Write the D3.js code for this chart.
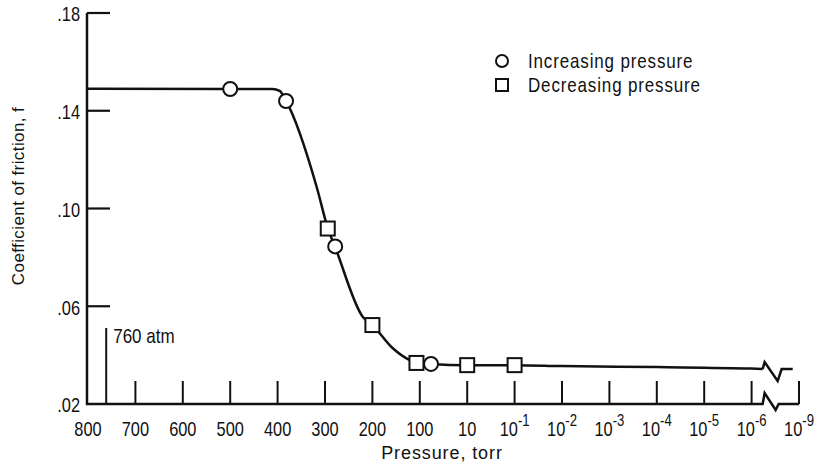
<!DOCTYPE html>
<html>
<head>
<meta charset="utf-8">
<script src="https://cdn.jsdelivr.net/npm/d3@7"></script>
<style>
    body { margin: 0; background: #fff; }
    text { font-family: "Liberation Sans", Arial, sans-serif; fill: #111; }
</style>
</head>
<body>
<svg></svg>
<script>
// x axis: equally spaced pressure stations (torr)
const pressureTicks = [800, 700, 600, 500, 400, 300, 200, 100, 10, 1e-1, 1e-2, 1e-3, 1e-4, 1e-5, 1e-6, 1e-9]
const tickBase = ["800", "700", "600", "500", "400", "300", "200", "100", "10", "10", "10", "10", "10", "10", "10", "10"]
const tickExp = ["", "", "", "", "", "", "", "", "", "-1", "-2", "-3", "-4", "-5", "-6", "-9"]

const yTicks = [0.02, 0.06, 0.10, 0.14, 0.18]
const yTickLabels = [".02", ".06", ".10", ".14", ".18"]

// measured points
const increasingP = [500, 380, 275, 58]
const increasingF = [0.1489, 0.1440, 0.0845, 0.0364]
const decreasingP = [293, 200, 105, 10, 0.1]
const decreasingF = [0.0918, 0.0523, 0.0368, 0.0359, 0.0359]

// faired curve
const curveP = [800, 500, 410, 395, 380, 315, 293, 275, 217, 200, 149, 116, 100, 58, 10, 0.1, 1e-2, 1e-4, 1e-6, 2e-7]
const curveF = [0.1490, 0.1489, 0.1489, 0.1481, 0.1440, 0.1084, 0.0920, 0.0842, 0.0556, 0.0523, 0.0429, 0.0380, 0.0368, 0.0364, 0.0359, 0.0359, 0.0355, 0.0351, 0.0345, 0.0343]
const tailP = [1.2e-8, 2.5e-9]
const tailF = [0.0343, 0.0343]

const atmP = 760

const width = 820
const height = 462
const svg = d3.select('svg')
    .attr("width", width)
    .attr("height", height)

const point = d3.scalePoint()
    .domain(d3.range(pressureTicks.length))
    .range([88, 799])

const x = d3.scaleLinear()
    .domain(pressureTicks.map(p => Math.log10(p)))
    .range(pressureTicks.map((p, i) => point(i)))

const y = d3.scaleLinear()
    .domain([0.02, 0.18])
    .range([404, 13])

const px = p => x(Math.log10(p))

// smalle (condensed) letter zoals in de scan
const smal = 0.82

tekenAssen()
tekenCurve()
tekenPunten()
tekenLegenda()

function tekenAssen() {
    const ink = "#111"
    const x0 = x.range()[0]
    const xEnd = x.range()[x.range().length - 1]
    const xBreak = px(2e-7)
    const yBase = y(0.02)

    // y axis
    svg.append("line")
        .attr("x1", x0 - 1).attr("x2", x0 - 1)
        .attr("y1", y(0.18)).attr("y2", yBase + 1)
        .attr("stroke", ink).attr("stroke-width", 2.5)

    svg.selectAll(".ytick")
        .data(yTicks.slice(1))
        .enter()
        .append("line")
        .attr("x1", x0 - 1).attr("x2", x0 + 22)
        .attr("y1", d => y(d)).attr("y2", d => y(d))
        .attr("stroke", ink).attr("stroke-width", 2.2)

    svg.selectAll(".ylabel")
        .data(yTicks)
        .enter()
        .append("text")
        .attr("transform", d => "translate(" + (x0 - 8) + "," + y(d) + ") scale(" + smal + ",1)")
        .attr("dy", "0.42em")
        .attr("text-anchor", "end")
        .attr("font-size", 20)
        .text((d, i) => yTickLabels[i])

    // x axis with break
    const axisPath = d3.path()
    axisPath.moveTo(x0 - 2, yBase)
    axisPath.lineTo(xBreak, yBase)
    axisPath.lineTo(xBreak + 2, yBase - 11)
    axisPath.lineTo(xBreak + 13, yBase + 6)
    axisPath.lineTo(xBreak + 16, yBase)
    axisPath.lineTo(xEnd, yBase)
    svg.append("path")
        .attr("d", axisPath.toString())
        .attr("fill", "none")
        .attr("stroke", ink).attr("stroke-width", 2.5)
        .attr("stroke-linejoin", "miter")

    svg.selectAll(".xtick")
        .data(pressureTicks.slice(1))
        .enter()
        .append("line")
        .attr("x1", d => px(d)).attr("x2", d => px(d))
        .attr("y1", yBase).attr("y2", yBase - 23)
        .attr("stroke", ink).attr("stroke-width", 2)

    const labels = svg.selectAll(".xlabel")
        .data(pressureTicks)
        .enter()
        .append("text")
        .attr("transform", d => "translate(" + px(d) + ",436) scale(" + smal + ",1)")
        .attr("text-anchor", "middle")
        .attr("font-size", 20)

    labels.append("tspan").text((d, i) => tickBase[i])
    labels.filter((d, i) => tickExp[i] !== "")
        .append("tspan")
        .attr("dy", -10)
        .attr("font-size", 16)
        .text(d => tickExp[pressureTicks.indexOf(d)])

    svg.append("text")
        .attr("x", 442)
        .attr("y", 459)
        .attr("text-anchor", "middle")
        .attr("font-size", 18)
        .attr("letter-spacing", 0.9)
        .text("Pressure, torr")

    svg.append("text")
        .attr("transform", "translate(24," + 196 + ") rotate(-90)")
        .attr("text-anchor", "middle")
        .attr("font-size", 17)
        .attr("letter-spacing", 0.4)
        .text("Coefficient of friction, f")

    // 760 atm marker
    svg.append("line")
        .attr("x1", px(atmP)).attr("x2", px(atmP))
        .attr("y1", yBase).attr("y2", 328)
        .attr("stroke", ink).attr("stroke-width", 2)
    svg.append("text")
        .attr("transform", "translate(" + (px(atmP) + 7) + ",343) scale(0.85,1)")
        .attr("font-size", 20)
        .text("760 atm")
}

function tekenCurve() {
    const lijn = d3.line()
        .x(d => px(d[0]))
        .y(d => y(d[1]))
        .curve(d3.curveMonotoneX)

    const hoofd = curveP.map((p, i) => [p, curveF[i]])
    svg.append("path")
        .attr("d", lijn(hoofd))
        .attr("fill", "none")
        .attr("stroke", "#111")
        .attr("stroke-width", 2.5)

    // break symbol on the curve
    const bx = px(curveP[curveP.length - 1])
    const by = y(curveF[curveF.length - 1])
    const breuk = d3.path()
    breuk.moveTo(bx, by)
    breuk.lineTo(bx + 2, by - 7)
    breuk.lineTo(bx + 15, by + 12)
    breuk.lineTo(bx + 19, by)
    breuk.lineTo(px(tailP[1]), y(tailF[1]))
    svg.append("path")
        .attr("d", breuk.toString())
        .attr("fill", "none")
        .attr("stroke", "#111")
        .attr("stroke-width", 2.5)
}

function tekenPunten() {
    svg.selectAll(".inc")
        .data(increasingP)
        .enter()
        .append("circle")
        .attr("cx", d => px(d))
        .attr("cy", (d, i) => y(increasingF[i]))
        .attr("r", 7)
        .attr("fill", "#fff")
        .attr("stroke", "#111")
        .attr("stroke-width", 2)

    svg.selectAll(".dec")
        .data(decreasingP)
        .enter()
        .append("rect")
        .attr("x", d => px(d) - 7)
        .attr("y", (d, i) => y(decreasingF[i]) - 7)
        .attr("width", 14)
        .attr("height", 14)
        .attr("fill", "#fff")
        .attr("stroke", "#111")
        .attr("stroke-width", 2)
}

function tekenLegenda() {
    svg.append("circle")
        .attr("cx", 502).attr("cy", 61).attr("r", 6)
        .attr("fill", "#fff").attr("stroke", "#111").attr("stroke-width", 2)
    svg.append("rect")
        .attr("x", 496).attr("y", 79).attr("width", 12).attr("height", 12)
        .attr("fill", "#fff").attr("stroke", "#111").attr("stroke-width", 2)

    svg.selectAll(".leg")
        .data(["Increasing pressure", "Decreasing pressure"])
        .enter()
        .append("text")
        .attr("transform", (d, i) => "translate(528," + (68 + i * 24) + ") scale(0.85,1)")
        .attr("font-size", 20)
        .attr("letter-spacing", 1)
        .text(d => d)
}
</script>
</body>
</html>
